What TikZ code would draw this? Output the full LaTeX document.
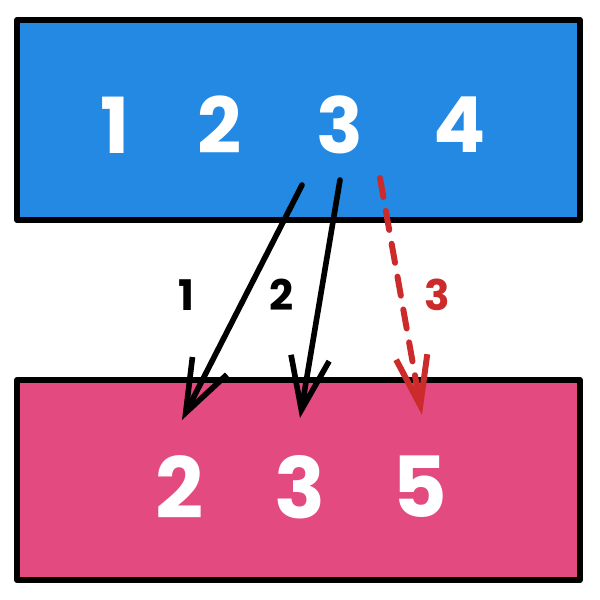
\documentclass[tikz,border=0pt]{standalone}
\usepackage{fontspec}
\setmainfont{Poppins}
\usetikzlibrary{arrows.meta}

\definecolor{upperfill}{HTML}{2389E3}
\definecolor{lowerfill}{HTML}{E34A7F}
\definecolor{accent}{HTML}{CC2B2B}

\begin{document}
\begin{tikzpicture}[
  x=0.02cm, y=-0.02cm,
  line cap=round, line join=round,
  box/.style={draw=black, line width=3.4pt, inner sep=0pt, minimum width=11.26cm, minimum height=4cm},
  digit/.style={text=white, inner sep=0pt, font=\fontsize{44}{44}\selectfont\bfseries},
  bigdigit/.style={text=white, inner sep=0pt, font=\fontsize{48}{48}\selectfont\bfseries},
  tag/.style={inner sep=0pt, font=\fontsize{24}{24}\selectfont\bfseries},
  link/.style={draw=black, line width=3.2pt, -{Straight Barb[length=30pt, width=22pt, line width=3.2pt]}},
  missed/.style={draw=accent, line width=3.4pt, dash pattern=on 11pt off 8pt, -{Straight Barb[length=28pt, width=18pt, line width=3.4pt]}},
]
\useasboundingbox (0,0) rectangle (600,600);
\node[box, fill=upperfill] (upper) at (298.5,120) {};
\node[box, fill=lowerfill] (lower) at (298.5,480) {};
\node[digit] (u1) at (115,125) {1};
\node[digit] (u2) at (220,125) {2};
\node[digit] (u3) at (340,125) {3};
\node[digit] (u4) at (460,125) {4};
\node[bigdigit] (l2) at (180,487) {2};
\node[bigdigit] (l3) at (300,487) {3};
\node[bigdigit] (l5) at (420,487) {5};
\coordinate (s1) at (302,185);
\coordinate (e1) at (182,420);
\coordinate (s2) at (340,180);
\coordinate (e2) at (300,418);
\coordinate (s3) at (380,178);
\coordinate (e3) at (422,415);
\draw[link] (s1) -- (e1);
\draw[link] (s2) -- (e2);
\draw[missed] (s3) -- (e3);
\node[tag] (n1) at (186,295) {1};
\node[tag] (n2) at (282,295) {2};
\node[tag, text=accent] (n3) at (437,295) {3};
\end{tikzpicture}
\end{document}
